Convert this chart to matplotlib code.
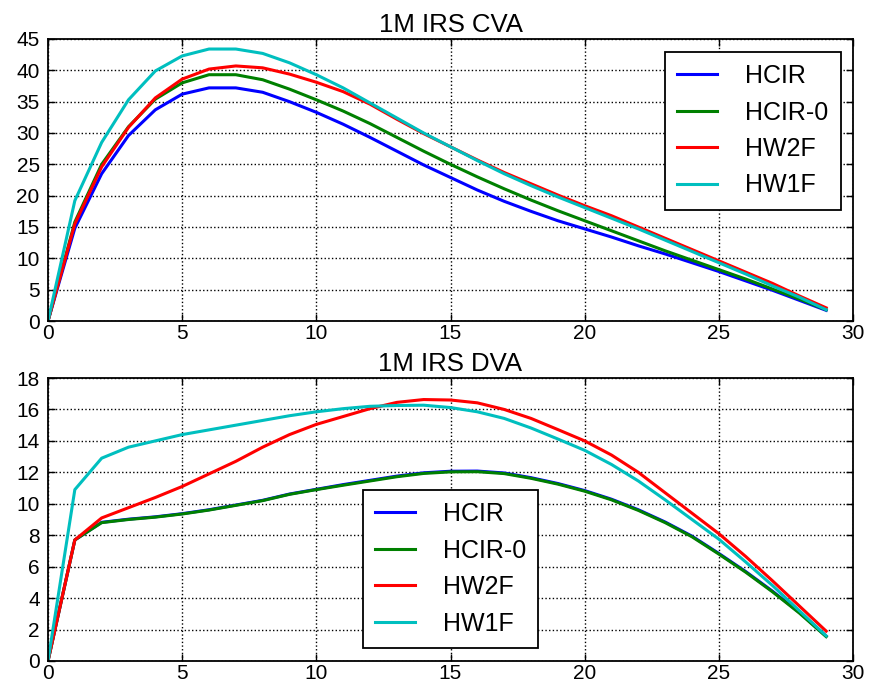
import matplotlib
matplotlib.use("Agg")
import matplotlib.pyplot as plt

plt.rcParams['font.family'] = ['Liberation Sans', 'DejaVu Sans']

years = list(range(30))
labels = ["HCIR", "HCIR-0", "HW2F", "HW1F"]
colors = ["b", "g", "r", "c"]

# Credit valuation adjustment profiles
cva_hcir = [0, 14.8, 23.5, 29.6, 33.7, 36.2, 37.2, 37.2, 36.5, 35.0, 33.3, 31.4, 29.3, 27.1, 24.9,
            22.9, 20.9, 19.1, 17.5, 16.0, 14.7, 13.4, 12.0, 10.7, 9.3, 7.9, 6.4, 4.9, 3.3, 1.7]
cva_hcir0 = [0, 15.8, 25.0, 31.0, 35.4, 38.0, 39.3, 39.3, 38.5, 37.0, 35.3, 33.5, 31.5, 29.3, 27.1,
             25.0, 23.0, 21.1, 19.3, 17.6, 16.0, 14.4, 12.8, 11.2, 9.7, 8.2, 6.7, 5.1, 3.5, 1.8]
cva_hw2f = [0, 15.5, 24.6, 30.9, 35.6, 38.6, 40.2, 40.7, 40.4, 39.4, 38.1, 36.6, 34.6, 32.2, 29.9,
            27.8, 25.7, 23.7, 21.9, 20.1, 18.4, 16.8, 15.0, 13.2, 11.4, 9.6, 7.8, 6.0, 4.0, 2.1]
cva_hw1f = [0, 19.2, 28.5, 35.3, 39.9, 42.3, 43.4, 43.4, 42.7, 41.2, 39.3, 37.2, 34.8, 32.4, 30.0,
            27.8, 25.6, 23.5, 21.6, 19.8, 18.1, 16.4, 14.7, 12.9, 11.1, 9.3, 7.5, 5.6, 3.8, 1.8]

# Debit valuation adjustment profiles
dva_hcir = [0, 7.7, 8.82, 9.02, 9.17, 9.37, 9.62, 9.92, 10.22, 10.62, 10.92, 11.22, 11.49, 11.76, 11.97,
            12.07, 12.08, 11.96, 11.66, 11.29, 10.84, 10.29, 9.62, 8.84, 7.94, 6.84, 5.69, 4.44, 3.09, 1.58]
dva_hcir0 = [0, 7.7, 8.8, 9.0, 9.15, 9.35, 9.6, 9.9, 10.2, 10.6, 10.9, 11.18, 11.45, 11.72, 11.93,
             12.03, 12.04, 11.92, 11.62, 11.25, 10.8, 10.25, 9.58, 8.8, 7.9, 6.8, 5.65, 4.4, 3.05, 1.55]
dva_hw2f = [0, 7.7, 9.1, 9.75, 10.4, 11.1, 11.9, 12.7, 13.6, 14.4, 15.05, 15.55, 16.05, 16.45, 16.63,
            16.6, 16.42, 16.0, 15.43, 14.72, 14.0, 13.1, 12.0, 10.7, 9.4, 8.1, 6.65, 5.1, 3.5, 1.9]
dva_hw1f = [0, 10.9, 12.9, 13.6, 14.0, 14.4, 14.7, 15.0, 15.3, 15.6, 15.85, 16.05, 16.2, 16.25, 16.27,
            16.12, 15.85, 15.43, 14.82, 14.12, 13.4, 12.5, 11.45, 10.25, 9.0, 7.75, 6.3, 4.8, 3.2, 1.6]

panels = [
    ("1M IRS CVA", [cva_hcir, cva_hcir0, cva_hw2f, cva_hw1f], 45, 5),
    ("1M IRS DVA", [dva_hcir, dva_hcir0, dva_hw2f, dva_hw1f], 18, 2),
]

fig = plt.figure(figsize=(8.69, 6.88), dpi=100, facecolor="white")
W, H = 869.0, 688.0
boxes = [(48, 39, 853, 321), (48, 378, 853, 661)]

legend_kw = dict(fontsize=18, handlelength=1.6, handletextpad=1.1, labelspacing=0.5,
                 borderpad=0.5, fancybox=False, framealpha=1)

for (title, series, ymax, ystep), (l, t, r, b) in zip(panels, boxes):
    ax = fig.add_axes([l / W, 1 - b / H, (r - l) / W, (b - t) / H])
    for vals, lab, col in zip(series, labels, colors):
        ax.plot(years, vals, color=col, lw=2.2, label=lab)
    ax.set_xlim(0, 30)
    ax.set_ylim(0, ymax)
    ax.set_xticks(range(0, 31, 5))
    ax.set_yticks(range(0, ymax + 1, ystep))
    ax.grid(True, color="k", linestyle=":", linewidth=1)
    ax.tick_params(direction="in", top=True, right=True, labelsize=15,
                   length=5, width=1)
    ax.tick_params(axis="x", pad=2.5)
    ax.tick_params(axis="y", pad=6)
    for s in ax.spines.values():
        s.set_linewidth(1.3)
    ax.set_title(title, fontsize=18.5, pad=5)
    if ymax == 45:
        leg = ax.legend(loc="upper right", **legend_kw)
    else:
        leg = ax.legend(loc="upper center", bbox_to_anchor=(0.5, 0.65), **legend_kw)
    leg.get_frame().set_edgecolor("k")
    leg.get_frame().set_linewidth(1.3)

fig.savefig("out.png", dpi=100, facecolor="white")
